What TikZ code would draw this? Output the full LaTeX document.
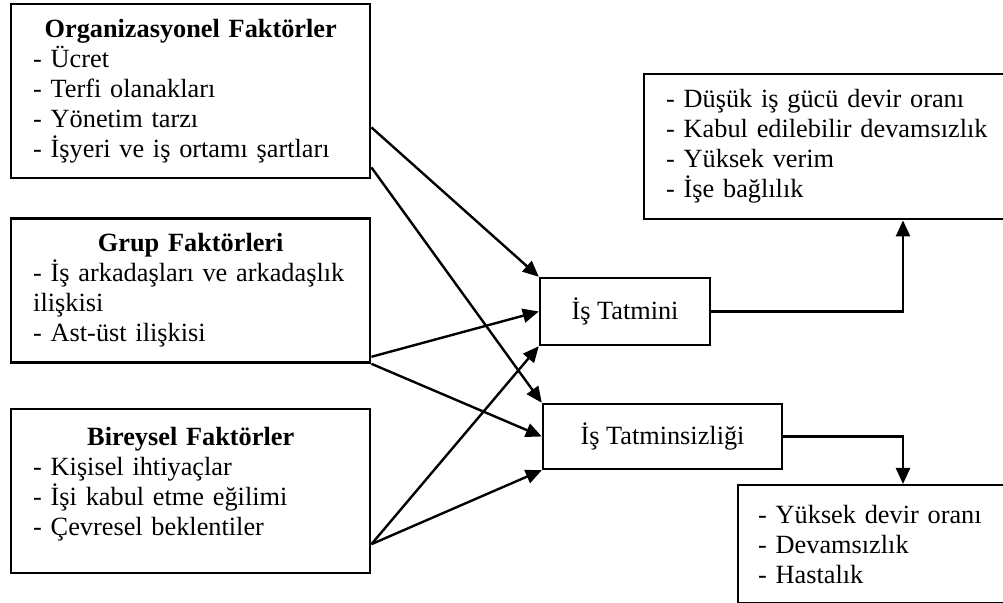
\documentclass[tikz,border=0pt]{standalone}
\usepackage{fontspec}
\setmainfont{Liberation Serif}
\usepackage{tikz}
\usetikzlibrary{positioning, arrows.meta}

\newcommand{\baslik}[1]{\makebox[\linewidth][c]{\textbf{#1}}}

\begin{document}
\begin{tikzpicture}[x=0.5pt, y=-0.5pt,
        font=\fontsize{13.15pt}{15pt}\selectfont,
        kutu/.style={draw, line width=1.2pt, inner xsep=11pt, align=left, anchor=north west},
        sonuc/.style={draw, line width=1.2pt, minimum height=33.5pt, align=center},
        ok/.style={line width=1.2pt, -{Triangle[length=8pt, width=7pt]}}]

        % Frame of the picture
        \useasboundingbox (0,0) rectangle (1003,603);
        \clip (0,0) rectangle (1003,603);

        % Factor boxes on the left
        \node[kutu, text width=157.5pt, minimum height=87pt] (org) at (10,3)
            {\baslik{Organizasyonel Faktörler}\\- Ücret\\- Terfi olanakları\\- Yönetim tarzı\\- İşyeri ve iş ortamı şartları};
        \node[kutu, text width=157.5pt, minimum height=72pt, below=19pt of org] (grp)
            {\baslik{Grup Faktörleri}\\- İş arkadaşları ve arkadaşlık\\ilişkisi\\- Ast-üst ilişkisi};
        \node[kutu, text width=157.5pt, minimum height=82pt, below=22pt of grp] (bir)
            {\baslik{Bireysel Faktörler}\\- Kişisel ihtiyaçlar\\- İşi kabul etme eğilimi\\- Çevresel beklentiler\\[-5pt]\mbox{}};

        % Satisfaction and dissatisfaction in the middle
        \node[sonuc, minimum width=85pt] (tat) at (625,311.5) {İş Tatmini};
        \node[sonuc, minimum width=119.5pt, minimum height=32.5pt] (tsz) at (662.5,436.5) {İş Tatminsizliği};

        % Outcome boxes on the right
        \node[kutu, text width=166.5pt, minimum height=72.5pt] (pos) at (643,73)
            {- Düşük iş gücü devir oranı\\- Kabul edilebilir devamsızlık\\- Yüksek verim\\- İşe bağlılık};
        \node[kutu, inner xsep=10pt, text width=121.5pt, minimum height=59pt] (neg) at (737,484)
            {- Yüksek devir oranı\\- Devamsızlık\\- Hastalık};

        % Arrows from the factors
        \draw[ok] ([yshift=26pt]org.south east) -- (tat.north west);
        \draw[ok] ([yshift=6pt]org.south east) -- (tsz.north west);
        \draw[ok] ([yshift=3.5pt]grp.south east) -- (tat.west);
        \draw[ok] (grp.south east) -- (tsz.west);
        \draw[ok] ([yshift=15pt]bir.south east) -- (tat.south west);
        \draw[ok] ([yshift=15pt]bir.south east) -- (tsz.south west);

        % Elbow arrows to the outcomes
        \coordinate (kol) at (903,0);
        \draw[ok] (tat.east) -| (kol |- pos.south);
        \draw[ok] (tsz.east) -| (kol |- neg.north);

    \end{tikzpicture}
\end{document}
